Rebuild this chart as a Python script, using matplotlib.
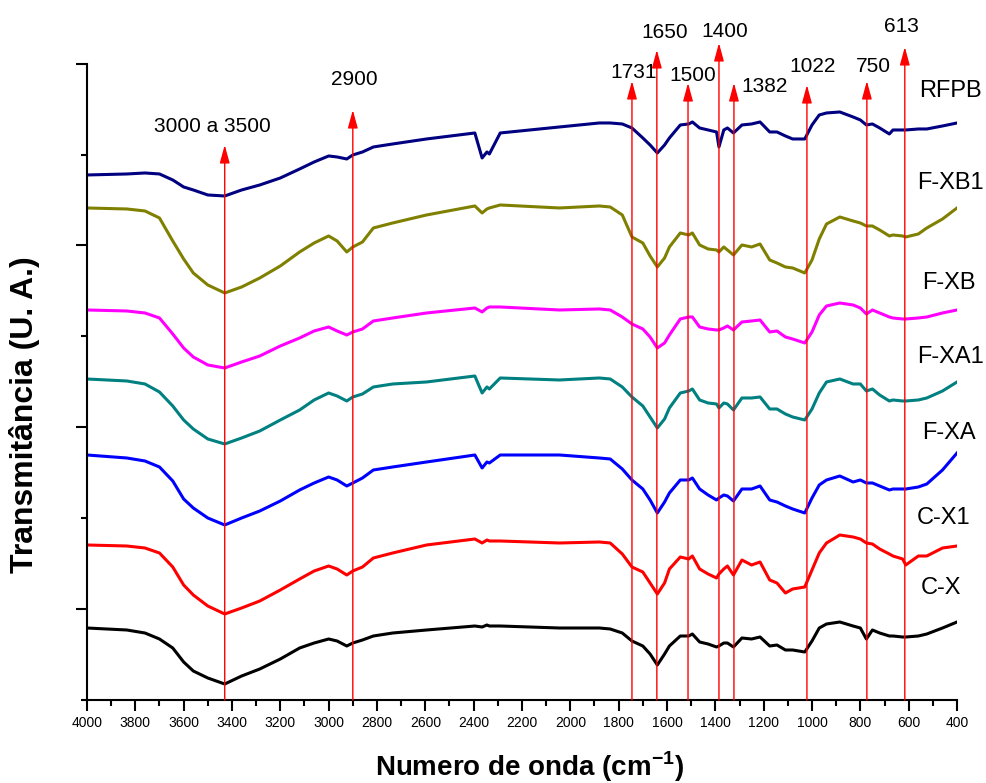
import numpy as np
import matplotlib.pyplot as plt

plt.rcParams['font.family'] = ['Liberation Sans', 'DejaVu Sans']
plt.rcParams['mathtext.fontset'] = 'custom'
plt.rcParams['mathtext.rm'] = 'Liberation Sans'
plt.rcParams['mathtext.bf'] = 'Liberation Sans:bold'

# Numero de onda (cm-1), malla comun para todos los espectros
wavenumber = [4000, 3835, 3760, 3700, 3645, 3600, 3560, 3500, 3430, 3360,
              3285, 3200, 3120, 3060, 3000, 2965, 2925, 2900, 2860,
              2815, 2735, 2595, 2395, 2365, 2345, 2335, 2290, 2045,
              1880, 1835, 1785, 1745, 1700, 1670, 1640, 1610, 1590, 1545,
              1510, 1495, 1465, 1430, 1395, 1385, 1365, 1350, 1325, 1290,
              1250, 1215, 1175, 1145, 1110, 1080, 1030, 1000, 970, 940,
              885, 830, 800, 775, 750, 720, 680, 665, 625, 612,
              560, 525, 460, 400]

# Transmitancia (U. A.), ya desplazada verticalmente
rfpb = [5.25, 5.26, 5.27, 5.26, 5.20, 5.13, 5.10, 5.05, 5.04, 5.10,
        5.15, 5.22, 5.31, 5.38, 5.44, 5.43, 5.41, 5.45, 5.48,
        5.53, 5.56, 5.61, 5.67, 5.42, 5.48, 5.46, 5.67, 5.73,
        5.77, 5.77, 5.76, 5.72, 5.62, 5.55, 5.47, 5.55, 5.62, 5.75,
        5.76, 5.78, 5.72, 5.70, 5.68, 5.53, 5.70, 5.72, 5.67, 5.75,
        5.76, 5.78, 5.68, 5.68, 5.64, 5.61, 5.61, 5.75, 5.85, 5.87,
        5.88, 5.83, 5.80, 5.75, 5.76, 5.72, 5.66, 5.70, 5.70, 5.70,
        5.71, 5.71, 5.74, 5.77]
fxb1 = [4.92, 4.91, 4.89, 4.82, 4.59, 4.41, 4.27, 4.15, 4.07, 4.13,
        4.22, 4.34, 4.48, 4.57, 4.64, 4.59, 4.48, 4.53, 4.58,
        4.72, 4.77, 4.85, 4.94, 4.87, 4.91, 4.92, 4.95, 4.92,
        4.94, 4.93, 4.85, 4.63, 4.57, 4.44, 4.33, 4.42, 4.53, 4.67,
        4.65, 4.67, 4.55, 4.51, 4.50, 4.48, 4.53, 4.50, 4.45, 4.55,
        4.53, 4.56, 4.40, 4.37, 4.33, 4.32, 4.27, 4.40, 4.61, 4.76,
        4.83, 4.79, 4.77, 4.74, 4.74, 4.70, 4.64, 4.65, 4.64, 4.63,
        4.66, 4.72, 4.81, 4.92]
fxb = [3.90, 3.89, 3.87, 3.82, 3.66, 3.52, 3.43, 3.35, 3.32, 3.38,
       3.44, 3.54, 3.62, 3.69, 3.73, 3.69, 3.65, 3.68, 3.71,
       3.79, 3.82, 3.87, 3.92, 3.88, 3.92, 3.93, 3.93, 3.90,
       3.91, 3.90, 3.83, 3.76, 3.71, 3.63, 3.52, 3.57, 3.65, 3.81,
       3.83, 3.83, 3.73, 3.71, 3.70, 3.70, 3.72, 3.74, 3.70, 3.78,
       3.79, 3.80, 3.68, 3.69, 3.63, 3.61, 3.57, 3.68, 3.85, 3.94,
       3.97, 3.95, 3.92, 3.86, 3.90, 3.87, 3.83, 3.82, 3.81, 3.81,
       3.82, 3.83, 3.87, 3.90]
fxa1 = [3.21, 3.19, 3.16, 3.08, 2.94, 2.80, 2.71, 2.61, 2.56, 2.62,
        2.69, 2.80, 2.90, 3.00, 3.07, 3.04, 2.99, 3.03, 3.06,
        3.13, 3.16, 3.18, 3.24, 3.07, 3.13, 3.11, 3.22, 3.20,
        3.22, 3.21, 3.13, 3.03, 2.94, 2.83, 2.72, 2.81, 2.92, 3.07,
        3.09, 3.11, 3.00, 2.97, 2.96, 2.92, 2.97, 2.96, 2.90, 3.02,
        3.02, 3.03, 2.91, 2.91, 2.86, 2.83, 2.80, 2.91, 3.07, 3.18,
        3.21, 3.16, 3.16, 3.09, 3.11, 3.05, 2.99, 3.00, 2.99, 2.99,
        3.00, 3.02, 3.09, 3.18]
fxa = [2.45, 2.42, 2.39, 2.33, 2.19, 2.01, 1.92, 1.82, 1.75, 1.82,
       1.89, 1.99, 2.10, 2.17, 2.23, 2.20, 2.14, 2.17, 2.22,
       2.30, 2.33, 2.38, 2.45, 2.32, 2.38, 2.37, 2.45, 2.45,
       2.42, 2.41, 2.31, 2.20, 2.11, 2.00, 1.87, 1.98, 2.07, 2.20,
       2.20, 2.22, 2.11, 2.05, 2.00, 2.02, 2.05, 2.04, 1.99, 2.11,
       2.11, 2.14, 2.00, 1.98, 1.94, 1.91, 1.87, 2.02, 2.15, 2.20,
       2.24, 2.18, 2.20, 2.17, 2.17, 2.14, 2.10, 2.11, 2.11, 2.11,
       2.13, 2.16, 2.30, 2.47]
cx1 = [1.55, 1.54, 1.52, 1.47, 1.33, 1.15, 1.05, 0.94, 0.86, 0.92,
       0.99, 1.10, 1.21, 1.29, 1.34, 1.31, 1.25, 1.29, 1.33,
       1.42, 1.47, 1.55, 1.61, 1.57, 1.60, 1.59, 1.59, 1.57,
       1.58, 1.57, 1.46, 1.33, 1.28, 1.17, 1.06, 1.17, 1.31, 1.43,
       1.41, 1.44, 1.31, 1.26, 1.22, 1.26, 1.31, 1.34, 1.25, 1.40,
       1.35, 1.38, 1.20, 1.17, 1.07, 1.11, 1.13, 1.30, 1.47, 1.57,
       1.65, 1.63, 1.61, 1.57, 1.56, 1.51, 1.46, 1.44, 1.41, 1.35,
       1.44, 1.44, 1.52, 1.54]
cx = [0.72, 0.70, 0.67, 0.61, 0.52, 0.38, 0.29, 0.22, 0.16, 0.24,
      0.31, 0.41, 0.52, 0.57, 0.61, 0.59, 0.54, 0.57, 0.60,
      0.64, 0.67, 0.70, 0.74, 0.73, 0.75, 0.74, 0.74, 0.72,
      0.72, 0.71, 0.67, 0.59, 0.54, 0.46, 0.35, 0.46, 0.54, 0.64,
      0.64, 0.66, 0.58, 0.56, 0.53, 0.54, 0.57, 0.57, 0.53, 0.62,
      0.61, 0.63, 0.54, 0.55, 0.50, 0.50, 0.48, 0.59, 0.72, 0.76,
      0.78, 0.74, 0.72, 0.61, 0.70, 0.67, 0.64, 0.64, 0.63, 0.63,
      0.64, 0.66, 0.72, 0.78]

series = [rfpb, fxb1, fxb, fxa1, fxa, cx1, cx]
names = ['RFPB', 'F-XB1', 'F-XB', 'F-XA1', 'F-XA', 'C-X1', 'C-X']
colors = ['#000080', '#808000', '#ff00ff', '#008080', '#0000ff', '#ff0000', '#000000']
# posicion de cada nombre (x en cm-1, y en U. A.)
name_x = [429, 429, 433, 429, 433, 454, 467]
name_y = [6.09, 5.17, 4.17, 3.43, 2.67, 1.82, 1.12]

# Bandas senaladas con flechas
band_pos = [3430, 2900, 1745, 1642, 1513, 1385, 1323, 1021, 773, 616]
band_tip = [5.55, 5.90, 6.19, 6.50, 6.17, 6.57, 6.17, 6.15, 6.19, 6.53]
band_text = ['3000 a 3500', '2900', '1731', '1650', '1500', '1400',
             '1382', '1022', '750', '613']
text_x = [3483, 2895, 1737, 1609, 1493, 1360, 1195, 996, 744, 628]
text_y = [5.73, 6.20, 6.27, 6.67, 6.24, 6.68, 6.13, 6.33, 6.33, 6.73]

fig = plt.figure(figsize=(9.86, 7.83), dpi=100)
ax = fig.add_axes([0.0882, 0.106, 0.8824, 0.8123])

for y, c in zip(series, colors):
    ax.plot(wavenumber, y, color=c, lw=2.2, solid_joinstyle='round', zorder=2)

for n, x, y in zip(names, name_x, name_y):
    ax.text(x, y, n, fontsize=17, ha='center', va='center', clip_on=False)

for p, t in zip(band_pos, band_tip):
    ax.annotate('', xy=(p, t), xytext=(p, 0), annotation_clip=False,
                arrowprops=dict(arrowstyle='-|>,head_length=1.1,head_width=0.3',
                                mutation_scale=10, color='red', lw=1,
                                shrinkA=0, shrinkB=0), zorder=3)

for s, x, y in zip(band_text, text_x, text_y):
    ax.text(x, y, s, fontsize=15, ha='center', va='center', clip_on=False)

ax.set_xlim(4000, 400)
ax.set_ylim(0, 6.36)
ax.set_xticks(np.arange(4000, 399, -200))
ax.set_xticks(np.arange(4000, 399, -100), minor=True)
ax.set_yticks([0.91, 2.73, 4.55, 6.36])
ax.set_yticks([0, 1.82, 3.64, 5.45], minor=True)
ax.set_yticklabels([])

for s in ['top', 'right']:
    ax.spines[s].set_visible(False)
for s in ['left', 'bottom']:
    ax.spines[s].set_linewidth(1.5)

ax.tick_params(which='major', length=8, width=1.5, direction='out', labelsize=10)
ax.tick_params(which='minor', length=4, width=1.5, direction='out')

ax.set_xlabel('Numero de onda (cm$^{\\mathbf{-1}}$)', fontsize=20, fontweight='bold')
ax.xaxis.set_label_coords(0.509, -0.078)
ax.set_ylabel('Transmitância (U. A.)', fontsize=23, fontweight='bold')
ax.yaxis.set_label_coords(-0.054, 0.448)

fig.savefig('out.png', dpi=100)
